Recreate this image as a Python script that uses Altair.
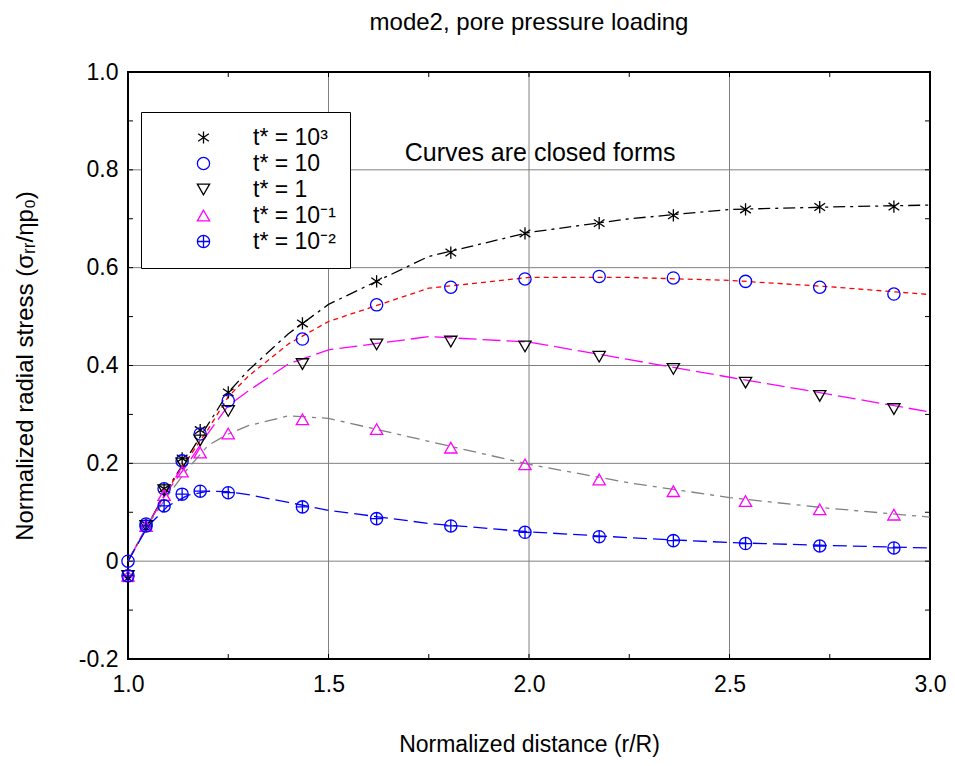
import altair as alt
import pandas as pd

# ---------------- data ----------------
series = ["t* = 10³", "t* = 10", "t* = 1", "t* = 10⁻¹", "t* = 10⁻²"]

marker_x = [1.0, 1.045, 1.09, 1.135, 1.18, 1.25, 1.435, 1.62, 1.805, 1.99, 2.175, 2.36, 2.54, 2.725, 2.91]
m_t1000 = [-0.035, 0.075, 0.148, 0.21, 0.268, 0.345, 0.486, 0.572, 0.631, 0.670, 0.691, 0.707, 0.719, 0.724, 0.725]
m_t10 = [0.0, 0.076, 0.148, 0.205, 0.260, 0.328, 0.454, 0.524, 0.560, 0.577, 0.582, 0.579, 0.572, 0.560, 0.546]
m_t1 = [-0.03, 0.072, 0.145, 0.200, 0.247, 0.307, 0.403, 0.443, 0.449, 0.439, 0.418, 0.393, 0.365, 0.338, 0.311]
m_t01 = [-0.03, 0.072, 0.135, 0.183, 0.222, 0.261, 0.290, 0.270, 0.232, 0.198, 0.167, 0.143, 0.123, 0.106, 0.095]
m_t001 = [-0.03, 0.072, 0.113, 0.137, 0.143, 0.140, 0.111, 0.087, 0.072, 0.059, 0.050, 0.042, 0.036, 0.031, 0.027]

curve_x = [1.0, 1.05, 1.1, 1.15, 1.2, 1.25, 1.3, 1.4, 1.5, 1.75, 2.0, 2.25, 2.5, 2.75, 3.0]
c_t1000 = [0.0, 0.075, 0.150, 0.215, 0.280, 0.345, 0.390, 0.465, 0.525, 0.623, 0.672, 0.700, 0.719, 0.724, 0.728]
c_t10 = [0.0, 0.075, 0.148, 0.210, 0.270, 0.336, 0.378, 0.444, 0.490, 0.558, 0.580, 0.580, 0.574, 0.561, 0.545]
c_t1 = [0.0, 0.075, 0.145, 0.200, 0.262, 0.318, 0.348, 0.403, 0.432, 0.459, 0.448, 0.412, 0.376, 0.341, 0.305]
c_t01 = [0.0, 0.075, 0.135, 0.190, 0.237, 0.260, 0.277, 0.297, 0.292, 0.245, 0.198, 0.160, 0.130, 0.108, 0.090]
c_t001 = [0.0, 0.072, 0.113, 0.135, 0.143, 0.142, 0.136, 0.120, 0.104, 0.077, 0.060, 0.048, 0.038, 0.032, 0.027]

x_major = [1.5, 2.0, 2.5]
y_major = [0.0, 0.2, 0.4, 0.6, 0.8]
x_minor = [1.25, 1.5, 1.75, 2.0, 2.25, 2.5, 2.75]
y_minor = [-0.1, 0.0, 0.1, 0.2, 0.3, 0.4, 0.5, 0.6, 0.7, 0.8, 0.9]

title_text = ["mode2, pore pressure loading"]
note_text = ["Curves are closed forms"]
note_x = [1.69]
note_y = [0.834]

# ---------------- styles ----------------
FONT = "Liberation Sans"
W, H = 802, 587
star_path = "M0,-1L0,1M-0.87,-0.6L0.87,0.6M-0.87,0.6L0.87,-0.6"
cplus_path = "M-1,0A1,1 0 1,0 1,0A1,1 0 1,0 -1,0ZM-1,0L1,0M0,-1L0,1"
marker_colors = ["black", "#0000ff", "black", "#ff00ff", "#0000ff"]
marker_shapes = [star_path, "circle", "triangle-down", "triangle-up", cplus_path]
line_colors = ["black", "#ff0000", "#ff00ff", "#808080", "#0000ff"]
line_dashes = [[12, 5, 3, 5], [5, 4], [18, 6], [13, 6, 4, 6], [14, 6]]

# ---------------- tables ----------------
m_vals = [m_t1000, m_t10, m_t1, m_t01, m_t001]
c_vals = [c_t1000, c_t10, c_t1, c_t01, c_t001]
marker_df = pd.DataFrame([
    {"series": s, "x": xv, "y": yv}
    for s, ys in zip(series, m_vals) for xv, yv in zip(marker_x, ys)
])
curve_df = pd.DataFrame([
    {"series": s, "x": xv, "y": yv}
    for s, ys in zip(series, c_vals) for xv, yv in zip(curve_x, ys)
])
xg_df = pd.DataFrame({"x": x_major})
yg_df = pd.DataFrame({"y": y_major})
xt_df = pd.DataFrame({"x": x_minor})
yt_df = pd.DataFrame({"y": y_minor})
note_df = pd.DataFrame({"x": note_x, "y": note_y, "label": note_text})
title_df = pd.DataFrame({"label": title_text})

xscale = alt.Scale(domain=[1.0, 3.0], nice=False, zero=False)
yscale = alt.Scale(domain=[-0.2, 1.0], nice=False, zero=False)

xaxis = alt.Axis(
    values=[1.0, 1.5, 2.0, 2.5, 3.0], format=".1f", grid=False, ticks=False, domain=False,
    labelFlush=False, labelOverlap=False,
    labelFont=FONT, labelFontSize=23, labelColor="black", labelPadding=14,
    titleFont=FONT, titleFontSize=23, titleFontWeight="normal", titleColor="black",
    titleX=W / 2, titleY=85, titleBaseline="middle", titleAlign="center",
)
yaxis = alt.Axis(
    values=[-0.2, 0.0, 0.2, 0.4, 0.6, 0.8, 1.0], grid=False, ticks=False, domain=False,
    labelFlush=False, labelOverlap=False,
    labelExpr="datum.value == 0 ? '0' : replace(format(datum.value, '.1f'), '\u2212', '-')",
    labelFont=FONT, labelFontSize=23, labelColor="black", labelPadding=10,
    titleFont=FONT, titleFontSize=24, titleFontWeight="normal", titleColor="black",
    titleX=-103, titleY=H / 2, titleAngle=-90, titleBaseline="middle", titleAlign="center",
)
XT = "Normalized distance (r/R)"
YT = "Normalized radial stress (σᵣᵣ/ηp₀)"


def X(field="x"):
    return alt.X(f"{field}:Q", scale=xscale, axis=xaxis, title=XT)


def Y(field="y"):
    return alt.Y(f"{field}:Q", scale=yscale, axis=yaxis, title=YT)


layers = []
# grid lines
layers.append(alt.Chart(xg_df).mark_rule(color="#808080", strokeWidth=1).encode(x=X()))
layers.append(alt.Chart(yg_df).mark_rule(color="#808080", strokeWidth=1).encode(y=Y()))
# inward minor ticks
layers.append(alt.Chart(xt_df).mark_rule(color="black", strokeWidth=1).encode(x=X(), y=alt.value(0), y2=alt.value(5)))
layers.append(alt.Chart(xt_df).mark_rule(color="black", strokeWidth=1).encode(x=X(), y=alt.value(H), y2=alt.value(H - 5)))
layers.append(alt.Chart(yt_df).mark_rule(color="black", strokeWidth=1).encode(y=Y(), x=alt.value(0), x2=alt.value(5)))
layers.append(alt.Chart(yt_df).mark_rule(color="black", strokeWidth=1).encode(y=Y(), x=alt.value(W), x2=alt.value(W - 5)))

# closed-form curves
for s, col, dash in zip(series, line_colors, line_dashes):
    layers.append(
        alt.Chart(curve_df).transform_filter(alt.datum.series == s)
        .mark_line(color=col, strokeDash=dash, strokeWidth=1.3)
        .encode(x=X(), y=Y(), order="x:Q")
    )

legend = alt.Legend(
    orient="none", legendX=13, legendY=40, strokeColor="black", fillColor="white",
    padding=14, labelFont=FONT, labelFontSize=23, labelColor="black",
    symbolSize=150, symbolStrokeWidth=1.3, symbolOffset=37, labelOffset=38,
    rowPadding=2, labelLimit=300,
)
points = alt.Chart(marker_df).mark_point(filled=False, size=150, strokeWidth=1.3, opacity=1).encode(
    x=X(), y=Y(),
    color=alt.Color("series:N", scale=alt.Scale(domain=series, range=marker_colors), legend=legend, title=None),
    shape=alt.Shape("series:N", scale=alt.Scale(domain=series, range=marker_shapes), legend=legend, title=None),
)
layers.append(points)

note = alt.Chart(note_df).mark_text(align="left", baseline="middle", font=FONT, fontSize=25, color="black").encode(
    x=X(), y=Y(), text="label:N"
)
layers.append(note)

title = alt.Chart(title_df).mark_text(align="center", baseline="middle", font=FONT, fontSize=24, color="black").encode(
    x=alt.value(W / 2), y=alt.value(-49), text="label:N"
)
layers.append(title)

chart = alt.layer(*layers).properties(
    width=W, height=H,
    autosize=alt.AutoSizeParams(type="none"),
    padding={"left": 120, "top": 64, "right": 17, "bottom": 99},
).configure_view(stroke="black", strokeWidth=2)

chart.save("out.html", embed_options={"renderer": "svg", "actions": False})
